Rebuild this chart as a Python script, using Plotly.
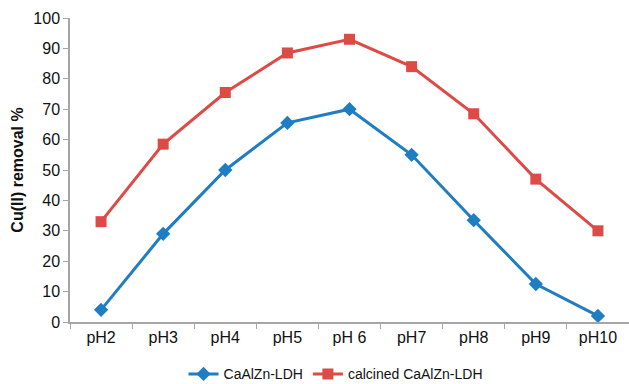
import plotly.graph_objects as go

categories = ["pH2", "pH3", "pH4", "pH5", "pH 6", "pH7", "pH8", "pH9", "pH10"]
ldh = [4, 29, 50, 65.5, 70, 55, 33.5, 12.5, 2]
calcined = [33, 58.5, 75.5, 88.5, 93, 84, 68.5, 47, 30]
y_ticks = [0, 10, 20, 30, 40, 50, 60, 70, 80, 90, 100]

BLUE = "#1F7DC3"
RED = "#DE4A46"
AXIS = "#A6A6A6"

fig = go.Figure()
fig.add_trace(go.Scatter(
    x=categories, y=ldh, name="CaAlZn-LDH", mode="lines+markers",
    line=dict(color=BLUE, width=3),
    marker=dict(symbol="diamond", size=11, color=BLUE),
))
fig.add_trace(go.Scatter(
    x=categories, y=calcined, name="calcined CaAlZn-LDH", mode="lines+markers",
    line=dict(color=RED, width=3),
    marker=dict(symbol="square", size=11, color=RED),
))

fig.update_layout(
    width=629, height=384,
    margin=dict(l=70, r=0, t=18, b=62, autoexpand=False),
    paper_bgcolor="white", plot_bgcolor="white",
    font=dict(family="Liberation Sans, Arial, sans-serif", size=15, color="#111111"),
    showlegend=True,
    legend=dict(
        orientation="h", x=0.475, xanchor="center", y=-0.172, yanchor="middle",
        font=dict(size=14), tracegroupgap=0,
    ),
    xaxis=dict(
        type="category", range=[-0.5, 8.5],
        showline=True, linecolor=AXIS, linewidth=1.5,
        ticks="outside", tickson="boundaries", ticklen=5, tickcolor=AXIS,
        showgrid=False, zeroline=False, tickfont=dict(size=16),
    ),
    yaxis=dict(
        range=[0, 100], tickvals=y_ticks,
        showline=True, linecolor=AXIS, linewidth=1.5,
        ticks="outside", ticklen=5, tickcolor=AXIS,
        showgrid=False, zeroline=False, tickfont=dict(size=16),
        title=dict(text="<b>Cu(II) removal %</b>", font=dict(size=16), standoff=6),
    ),
)

fig.write_html("out.html")
